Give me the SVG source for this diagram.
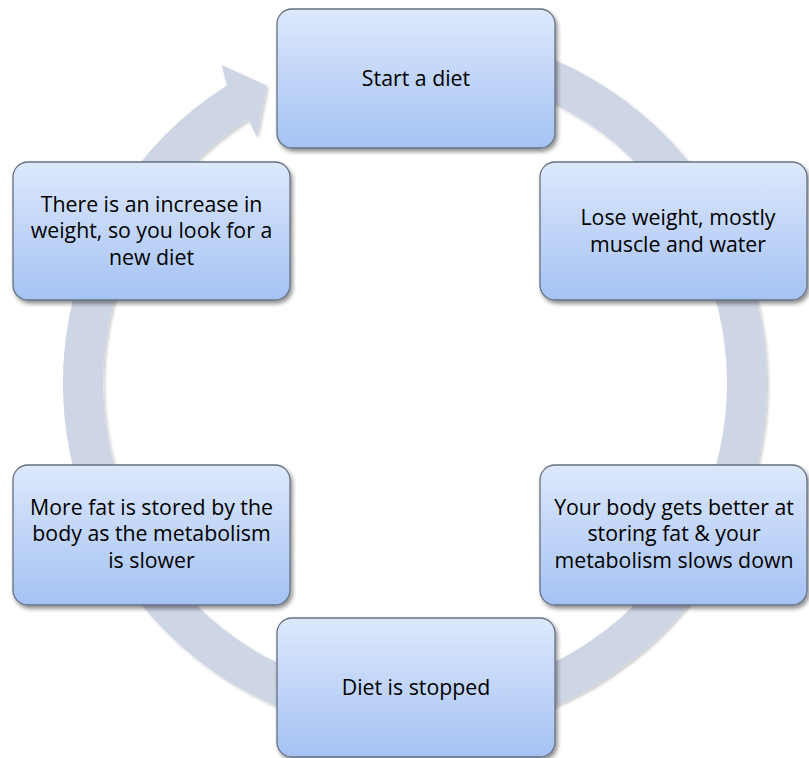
<svg xmlns="http://www.w3.org/2000/svg" width="809" height="758" viewBox="0 0 809 758">
  <defs>
    <linearGradient id="boxGrad" x1="0" y1="0" x2="0" y2="1">
      <stop offset="0" stop-color="#dde8fb"/>
      <stop offset="1" stop-color="#a5c2f4"/>
    </linearGradient>
    <filter id="shadow" x="-10%" y="-10%" width="125%" height="130%">
      <feGaussianBlur in="SourceAlpha" stdDeviation="2.2"/>
      <feOffset dx="2" dy="3" result="b"/>
      <feComponentTransfer><feFuncA type="linear" slope="0.45"/></feComponentTransfer>
      <feMerge><feMergeNode/><feMergeNode in="SourceGraphic"/></feMerge>
    </filter>
    <filter id="ringShadow" x="-5%" y="-5%" width="110%" height="110%">
      <feGaussianBlur in="SourceAlpha" stdDeviation="1.5"/>
      <feOffset dx="1.5" dy="2"/>
      <feComponentTransfer><feFuncA type="linear" slope="0.2"/></feComponentTransfer>
      <feMerge><feMergeNode/><feMergeNode in="SourceGraphic"/></feMerge>
    </filter>
  </defs>
  <style>
    .box { fill: url(#boxGrad); stroke: #667180; stroke-width: 1.3; filter: url(#shadow); }
    .lbl { font-family: "Open Sans", "Liberation Sans", sans-serif; font-size: 21.3px; fill: #000; text-anchor: middle; }
    .ring { fill: #ced6e6; filter: url(#ringShadow); }
  </style>
  <rect width="809" height="758" fill="#ffffff"/>
  <g id="connectors">
    <path class="ring" d="M 476.1,36.35 A 352 352 0 1 1 226.9,85.4 L 221.7,65 L 266.7,85.5 L 256.7,136.7 L 248.3,119.3 A 312 312 0 1 0 469.18,75.74 Z"/>
  </g>
  <g id="node1">
    <rect class="box" x="277" y="9" width="278" height="139" rx="15"/>
    <text class="lbl" x="416" y="86">Start a diet</text>
  </g>
  <g id="node2">
    <rect class="box" x="540" y="162" width="267" height="138" rx="15"/>
    <text class="lbl" x="678" y="225">Lose weight, mostly</text>
    <text class="lbl" x="678" y="251.7">muscle and water</text>
  </g>
  <g id="node3">
    <rect class="box" x="540" y="465" width="267" height="140" rx="15"/>
    <text class="lbl" x="674" y="514.5">Your body gets better at</text>
    <text class="lbl" x="674" y="541.2">storing fat &amp; your</text>
    <text class="lbl" x="674" y="568">metabolism slows down</text>
  </g>
  <g id="node4">
    <rect class="box" x="277" y="618" width="278" height="139" rx="15"/>
    <text class="lbl" x="416" y="695">Diet is stopped</text>
  </g>
  <g id="node5">
    <rect class="box" x="13" y="465" width="277" height="140" rx="15"/>
    <text class="lbl" x="151.5" y="514.5">More fat is stored by the</text>
    <text class="lbl" x="151.5" y="541.2">body as the metabolism</text>
    <text class="lbl" x="151.5" y="568">is slower</text>
  </g>
  <g id="node6">
    <rect class="box" x="13" y="162" width="277" height="138" rx="15"/>
    <text class="lbl" x="151.5" y="211.7">There is an increase in</text>
    <text class="lbl" x="151.5" y="238.3">weight, so you look for a</text>
    <text class="lbl" x="151.5" y="265">new diet</text>
  </g>
</svg>
